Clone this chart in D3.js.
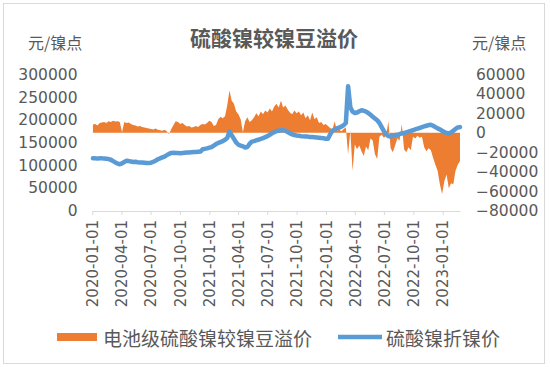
<!DOCTYPE html>
<html><head><meta charset="utf-8">
<script src="https://cdn.jsdelivr.net/npm/d3@7/dist/d3.min.js"></script>
<style>body{margin:0;background:#fff}svg{display:block}</style>
</head><body>
<svg id="chart" width="550" height="367"></svg>
<script>
// ---- data (weekly observations, first one on startDate) ----
const startDate = "2020-01-03";
const premium = [
 8500, 9000, 7500, 10000, 10500, 11000, 10000, 12000, 11000, 12500,
 11500, 12000, 11000, 500, 11000, 10000, 10500, 9000, 8000, 7500,
 6500, 7000, 6000, 5500, 5000, 4500, 4000, 3500, 4500, 3000,
 2500, 2000, 3000, 1500, -1500, 4000, 8000, 12000, 11000, 9000,
 10000, 8000, 6500, 7000, 5500, 6000, 7000, 6000, 8000, 9000,
 8500, 10000, 12500, 11000, 7000, 8000, 14000, 16500, 15000, 17000,
 28000, 43500, 33000, 30000, 22000, 19000, 14000, 500, 12000, 16000,
 11000, 13000, 16000, 20000, 17000, 22000, 19000, 23000, 21000, 25000,
 22000, 27000, 30000, 26000, 33000, 26000, 28000, 24000, 21000, 19000,
 23000, 20000, 22000, 18000, 21000, 15000, 18000, 13000, 21000, 14000,
 16000, 10000, 11000, 8000, 9000, 7000, 5000, 3000, 12000, 2000,
 3500, 1500, 4000, 5500, -22000, 2000, -39000, -12000, -17000, -13000,
 -19000, -24000, -14000, -18000, -6000, -8000, -22000, -27000, -4000, -2000,
 -5000, -3000, 12000, -16000, -20000, -13000, -6000, -8000, 9000, -17000,
 -20000, -15000, -18000, -4000, -6000, -3000, -5000, -4000, -15000, -19000,
 -16000, -18000, -26000, -33000, -39000, -53000, -63000, -50000, -43000, -57000,
 -52000, -53000, -39000, -33000, -29000
];
const price = [
 115000, 115000, 114500, 115000, 115000, 114500, 114000, 113500, 112000, 109000,
 106000, 103500, 102000, 104000, 107000, 109500, 109000, 108000, 107000, 107500,
 106500, 106000, 106000, 105500, 105000, 105000, 105500, 107500, 110000, 113000,
 115000, 117000, 119000, 122000, 125000, 127000, 127500, 127000, 127000, 126500,
 127000, 127500, 128000, 128000, 128500, 129000, 129000, 129500, 130000, 135000,
 136000, 137000, 138500, 140000, 143000, 146500, 149000, 151000, 153000, 156000,
 160000, 174000, 166000, 158000, 150000, 145000, 143000, 141500, 139000, 140000,
 147000, 152000, 153000, 155000, 156000, 158000, 159500, 162000, 164000, 167000,
 170000, 173000, 175000, 176000, 177000, 177500, 176000, 173000, 170000, 168000,
 166500, 165500, 165000, 164000, 163500, 163000, 163000, 162000, 162000, 161500,
 161000, 160500, 160000, 159500, 158000, 158000, 168000, 176000, 179000, 181000,
 183000, 185000, 188000, 193000, 274000, 228000, 218000, 215000, 216000, 219000,
 221000, 220000, 218000, 215000, 211000, 207000, 203000, 199000, 193000, 184000,
 175000, 169000, 164000, 163000, 165000, 166000, 167000, 168500, 170000, 171000,
 172500, 174000, 175500, 177000, 179000, 180500, 182000, 184000, 185500, 187000,
 188500, 189000, 187000, 184000, 181000, 179000, 176000, 173000, 171000, 170000,
 172000, 176000, 180000, 183000, 184000
];
const leftTicks = [0, 50000, 100000, 150000, 200000, 250000, 300000];
const rightTicks = [-80000, -60000, -40000, -20000, 0, 20000, 40000, 60000];
const quarterTicks = ["2020-01-01","2020-04-01","2020-07-01","2020-10-01","2021-01-01","2021-04-01",
  "2021-07-01","2021-10-01","2022-01-01","2022-04-01","2022-07-01","2022-10-01","2023-01-01"];
const axisStart = "2020-01-01";
const titleText = "硫酸镍较镍豆溢价";
const unitText = "元/镍点";
const seriesNames = ["电池级硫酸镍较镍豆溢价", "硫酸镍折镍价"];

// ---- drawing ----
const parse = d3.utcParse("%Y-%m-%d");
const fmt = d3.utcFormat("%Y-%m-%d");
const dates = premium.map((_, i) => d3.utcDay.offset(parse(startDate), 7 * i));
const orange = "#ED7D31", blue = "#5B9BD5", txt = "#595959";
const numFont = "DejaVu Sans, sans-serif";
const cjkFont = "'Noto Sans CJK SC', sans-serif";

const svg = d3.select("#chart");
svg.append("rect").attr("x", 3.5).attr("y", 3.5).attr("width", 541).attr("height", 360)
  .attr("fill", "#fff").attr("stroke", "#d9d9d9");

const x = d3.scaleUtc().domain([parse(axisStart), dates[dates.length - 1]]).range([92.3, 460]);
const yL = d3.scaleLinear().domain([0, 300000]).range([210.5, 74.5]);
const yR = d3.scaleLinear().domain([-80000, 60000]).range([210.5, 74.5]);

// premium area (right axis)
const area = d3.area().x((d, i) => x(dates[i])).y0(yR(0)).y1(d => yR(d));
svg.append("path").datum(premium).attr("d", area).attr("fill", orange);

// price line (left axis)
const line = d3.line().x((d, i) => x(dates[i])).y(d => yL(d));
svg.append("path").datum(price).attr("d", line).attr("fill", "none")
  .attr("stroke", blue).attr("stroke-width", 4.5).attr("stroke-linejoin", "round").attr("stroke-linecap", "round");

// x axis
const gx = svg.append("g").attr("transform", "translate(0,211)")
  .call(d3.axisBottom(x).tickValues(quarterTicks.map(parse)).tickFormat(fmt).tickSize(4).tickSizeOuter(0));
gx.select(".domain").attr("stroke", "#d9d9d9");
gx.selectAll(".tick line").attr("stroke", "#d9d9d9");
gx.selectAll(".tick text").attr("transform", "rotate(-90)").attr("x", -9).attr("y", 0).attr("dy", "0.35em")
  .attr("text-anchor", "end").attr("fill", txt).style("font-family", numFont).style("font-size", "15px");

// left axis
const gl = svg.append("g").attr("transform", "translate(77.5,0)")
  .call(d3.axisLeft(yL).tickValues(leftTicks).tickFormat(d3.format("d")).tickSize(0).tickPadding(0));
gl.select(".domain").remove();
gl.selectAll("text").attr("fill", txt).style("font-family", numFont).style("font-size", "15.5px");

// right axis
const gr = svg.append("g").attr("transform", "translate(476,0)")
  .call(d3.axisRight(yR).tickValues(rightTicks).tickFormat(d3.format("d")).tickSize(0).tickPadding(0));
gr.select(".domain").remove();
gr.selectAll("text").attr("fill", txt).style("font-family", numFont).style("font-size", "15.5px");

// titles
svg.append("text").attr("x", 274).attr("y", 37).attr("text-anchor", "middle").attr("dominant-baseline", "central")
  .attr("fill", txt).style("font-family", cjkFont).style("font-size", "21px").style("font-weight", "bold").text(titleText);
svg.append("text").attr("x", 28).attr("y", 42).attr("dominant-baseline", "central")
  .attr("fill", txt).style("font-family", cjkFont).style("font-size", "16px").text(unitText);
svg.append("text").attr("x", 472).attr("y", 42).attr("dominant-baseline", "central")
  .attr("fill", txt).style("font-family", cjkFont).style("font-size", "16px").text(unitText);

// legend
const lg = svg.append("g");
lg.append("rect").attr("x", 57).attr("y", 333).attr("width", 40).attr("height", 8).attr("fill", orange);
lg.append("text").attr("x", 103).attr("y", 337).attr("dominant-baseline", "central").attr("fill", txt)
  .style("font-family", cjkFont).style("font-size", "19px").text(seriesNames[0]);
lg.append("line").attr("x1", 338).attr("x2", 382).attr("y1", 337).attr("y2", 337)
  .attr("stroke", blue).attr("stroke-width", 4.5);
lg.append("text").attr("x", 386).attr("y", 337).attr("dominant-baseline", "central").attr("fill", txt)
  .style("font-family", cjkFont).style("font-size", "19px").text(seriesNames[1]);
</script>
</body></html>
